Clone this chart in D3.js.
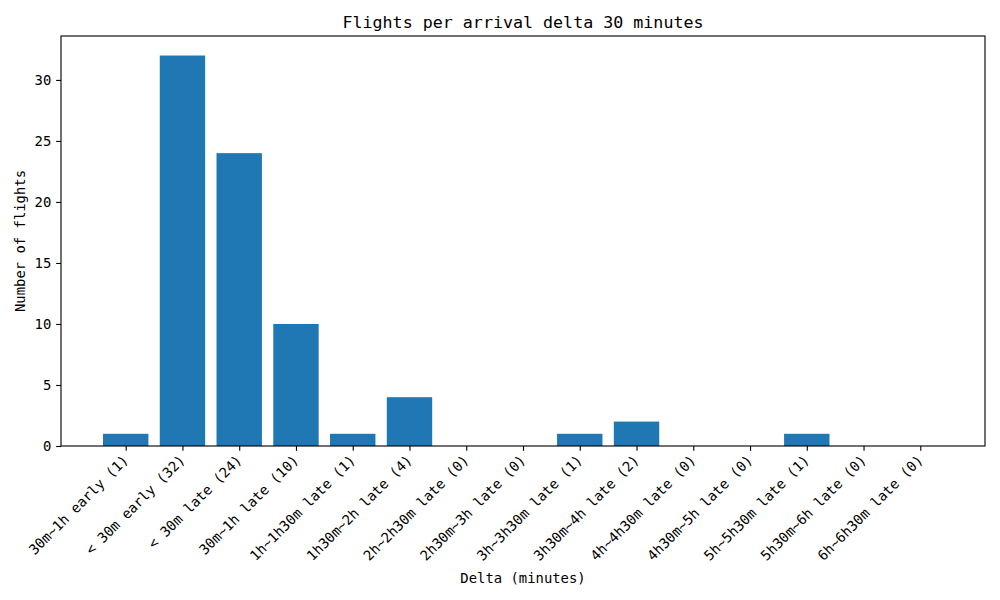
<!DOCTYPE html>
<html>
<head>
<meta charset="utf-8">
<script src="https://cdn.jsdelivr.net/npm/d3@7"></script>
<style>
  body { margin: 0; background: #fff; }
  text { font-family: "DejaVu Sans Mono", monospace; fill: #000; }
</style>
</head>
<body>
<svg width="1000" height="600"></svg>
<script>
// categories and counts
var categories = ["30m~1h early", "< 30m early", "< 30m late", "30m~1h late",
    "1h~1h30m late", "1h30m~2h late", "2h~2h30m late", "2h30m~3h late",
    "3h~3h30m late", "3h30m~4h late", "4h~4h30m late", "4h30m~5h late",
    "5h~5h30m late", "5h30m~6h late", "6h~6h30m late"];
var counts = [1, 32, 24, 10, 1, 4, 0, 0, 1, 2, 0, 0, 1, 0, 0];
var yTicks = [0, 5, 10, 15, 20, 25, 30];

var svg = d3.select('svg');

var plotL = 61, plotR = 985, plotT = 36, plotB = 446;
var fs = '13.89px';

var n = categories.length;
var x = d3.scaleLinear()
    .domain([-1.14, n - 1 + 1.14])
    .range([plotL, plotR]);

var y = d3.scaleLinear()
    .domain([0, 33.6])
    .range([plotB, plotT]);

var barW = x(0.8) - x(0);

svg.selectAll('rect.bar')
    .data(counts)
    .enter()
    .append('rect')
    .attr('class', 'bar')
    .attr('x', function(d, i) { return x(i) - barW / 2; })
    .attr('y', function(d) { return y(d); })
    .attr('width', barW)
    .attr('height', function(d) { return y(0) - y(d); })
    .attr('fill', '#1f77b4');

// y axis
var yAxis = d3.axisLeft(y)
    .tickValues(yTicks)
    .tickSize(4.86)
    .tickPadding(4.86);

var gy = svg.append('g')
    .attr('transform', 'translate(' + plotL + ',0)')
    .call(yAxis);
gy.select('.domain').remove();
gy.selectAll('line').attr('stroke', '#000').attr('stroke-width', 1.11);
gy.selectAll('text')
    .style('font-size', fs)
    .style('font-family', '"DejaVu Sans Mono", monospace');

// x axis
var xAxis = d3.axisBottom(x)
    .tickValues(d3.range(n))
    .tickSize(4.86)
    .tickFormat(function(i) { return categories[i] + ' (' + counts[i] + ')'; });

var gx = svg.append('g')
    .attr('transform', 'translate(0,' + plotB + ')')
    .call(xAxis);
gx.select('.domain').remove();
gx.selectAll('line').attr('stroke', '#000').attr('stroke-width', 1.11);
gx.selectAll('text')
    .style('font-size', fs)
    .style('font-family', '"DejaVu Sans Mono", monospace')
    .attr('text-anchor', 'end')
    .attr('dy', null)
    .attr('y', 0)
    .attr('transform', 'translate(3,15) rotate(-45)');

// frame
svg.append('rect')
    .attr('x', plotL)
    .attr('y', plotT)
    .attr('width', plotR - plotL)
    .attr('height', plotB - plotT)
    .attr('fill', 'none')
    .attr('stroke', '#000')
    .attr('stroke-width', 1.11);

svg.append('text')
    .attr('x', (plotL + plotR) / 2)
    .attr('y', 28)
    .attr('text-anchor', 'middle')
    .style('font-size', '16.67px')
    .text('Flights per arrival delta 30 minutes');

svg.append('text')
    .attr('x', (plotL + plotR) / 2)
    .attr('y', 583)
    .attr('text-anchor', 'middle')
    .style('font-size', fs)
    .text('Delta (minutes)');

svg.append('text')
    .attr('transform', 'translate(25,' + (plotT + plotB) / 2 + ') rotate(-90)')
    .attr('text-anchor', 'middle')
    .style('font-size', fs)
    .text('Number of flights');
</script>
</body>
</html>
